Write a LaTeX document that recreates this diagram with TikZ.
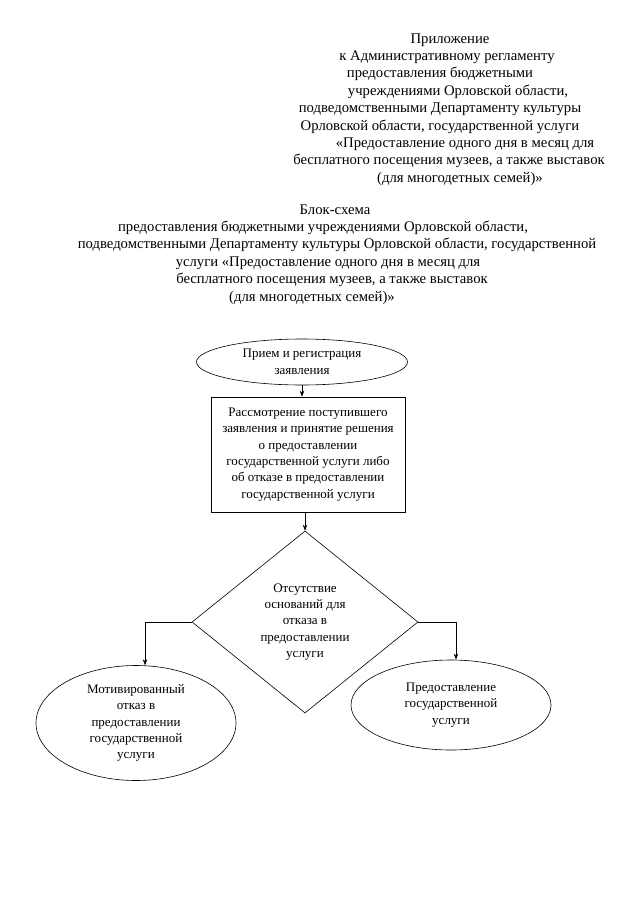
\documentclass[tikz,border=0pt]{standalone}
\usepackage{fontspec}
\setmainfont{Liberation Serif}
\usetikzlibrary{shapes.geometric,arrows.meta,calc}
\begin{document}
\begin{tikzpicture}[x=1pt,y=-1pt,
  hdr/.style={anchor=base,inner sep=0pt,font=\fontsize{14.7}{17.2}\selectfont},
  fc/.style={draw,line width=0.6pt,align=center,inner sep=0pt,font=\fontsize{13}{16.4}\selectfont},
  oval/.style={fc,ellipse},
  box/.style={fc,rectangle},
  dia/.style={fc,diamond,aspect=1.25},
  arr/.style={line width=0.6pt,-{Stealth[length=6pt,width=4.5pt]}},
  ln/.style={line width=0.6pt}]
\fill[white] (0,0) rectangle (640,905);
\useasboundingbox (0,0) rectangle (640,905);
% header
\node[hdr] (h1) at (450,43) {Приложение};
\node[hdr] (h2) at (447,60.4) {к Административному регламенту};
\node[hdr] (h3) at (440,77.8) {предоставления бюджетными};
\node[hdr] (h4) at (458,95.2) {учреждениями Орловской области,};
\node[hdr] (h5) at (440,112.6) {подведомственными Департаменту культуры};
\node[hdr] (h6) at (440,130) {Орловской области, государственной услуги};
\node[hdr] (h7) at (465,147.4) {«Предоставление одного дня в месяц для};
\node[hdr] (h8) at (449,164.8) {бесплатного посещения музеев, а также выставок};
\node[hdr] (h9) at (460,182.2) {(для многодетных семей)»};
% title
\node[hdr] (t1) at (335,214) {Блок-схема};
\node[hdr] (t2) at (323,231.4) {предоставления бюджетными учреждениями Орловской области,};
\node[hdr] (t3) at (337,248.8) {подведомственными Департаменту культуры Орловской области, государственной};
\node[hdr] (t4) at (328,266.2) {услуги «Предоставление одного дня в месяц для};
\node[hdr] (t5) at (332,283.6) {бесплатного посещения музеев, а также выставок};
\node[hdr] (t6) at (312,301) {(для многодетных семей)»};
% flowchart
\node[oval,minimum width=211pt,minimum height=46pt] (e1) at (302,362) {Прием и регистрация\\заявления};
\node[box,minimum width=194pt,minimum height=115pt] (r1) at (308,454.5) {Рассмотрение поступившего\\заявления и принятие решения\\о предоставлении\\государственной услуги либо\\об отказе в предоставлении\\государственной услуги};
\node[dia,minimum width=226pt,minimum height=182pt] (d1) at (305,622) {Отсутствие\\оснований для\\отказа в\\предоставлении\\услуги};
\node[oval,minimum width=200pt,minimum height=115pt] (le) at (136,723) {Мотивированный\\отказ в\\предоставлении\\государственной\\услуги};
\node[oval,minimum width=200pt,minimum height=90pt] (re) at (451,705) {Предоставление\\государственной\\услуги};
% connectors
\draw[arr] (e1.south) -- (e1.south |- r1.north);
\draw[arr] (d1.north |- r1.south) -- (d1.north);
\draw[arr] (d1.west) -| ($(le.north)+(9,0)$);
\draw[arr] (d1.east) -| ($(re.north)+(5,0)$);
\end{tikzpicture}
\end{document}
